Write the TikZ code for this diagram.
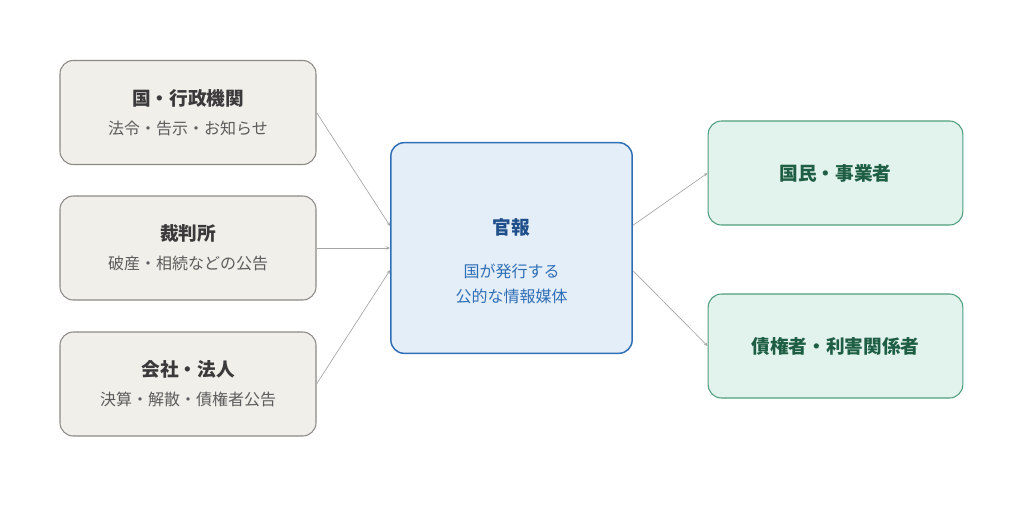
\documentclass[tikz,border=0pt]{standalone}
\usepackage{fontspec}
\setmainfont{Noto Sans CJK JP}
\usetikzlibrary{arrows.meta}
\definecolor{srcfill}{HTML}{F1EFEA}
\definecolor{srcline}{HTML}{8C8A84}
\definecolor{srctext}{HTML}{3A3A3A}
\definecolor{subtext}{HTML}{5C5C5C}
\definecolor{hubfill}{HTML}{E4EEF9}
\definecolor{hubline}{HTML}{2F6EB5}
\definecolor{hubtext}{HTML}{1F4F8A}
\definecolor{dstfill}{HTML}{E1F3EC}
\definecolor{dstline}{HTML}{4E9E7D}
\definecolor{dsttext}{HTML}{1E5E44}
\tikzset{
  box/.style={rounded corners=10pt, line width=0.8pt, minimum width=192pt, minimum height=78pt, align=center, inner sep=0pt},
  src/.style={box, fill=srcfill, draw=srcline},
  hub/.style={box, fill=hubfill, draw=hubline, line width=1.1pt, minimum width=181pt, minimum height=158pt},
  dst/.style={box, fill=dstfill, draw=dstline, minimum width=191pt},
  link/.style={draw=gray!70, line width=0.5pt, -{Stealth[length=3pt,width=2.5pt]}}
}
\newcommand\ttl{\fontsize{14pt}{17pt}\selectfont\bfseries}
\newcommand\sbt{\fontsize{12pt}{17pt}\selectfont\mdseries}
\begin{document}
\begin{tikzpicture}[x=0.75pt,y=-0.75pt]
    \useasboundingbox (0,0) rectangle (1024,512);

    \node[src] (gov) at (188,112.5) {\ttl\color{srctext}国・行政機関\\[10pt]\sbt\color{subtext}法令・告示・お知らせ};
    \node[src] (court) at (188,248) {\ttl\color{srctext}裁判所\\[10pt]\sbt\color{subtext}破産・相続などの公告};
    \node[src] (corp) at (188,384) {\ttl\color{srctext}会社・法人\\[10pt]\sbt\color{subtext}決算・解散・債権者公告};

    \node[hub] (kanpo) at (511.5,248) {\rule{0pt}{32pt}\ttl\color{hubtext}官報\\[20pt]\sbt\color{hubline}国が発行する\\[7pt]\sbt\color{hubline}公的な情報媒体};

    \node[dst] (public) at (835.5,173) {\ttl\color{dsttext}国民・事業者};
    \node[dst] (creditor) at (835.5,346) {\ttl\color{dsttext}債権者・利害関係者};

    % connectors
    \draw[link] (gov.east) -- ([yshift=16.5pt]kanpo.west);
    \draw[link] (court.east) -- (kanpo.west);
    \draw[link] (corp.east) -- ([yshift=-16.5pt]kanpo.west);
    \draw[link] ([yshift=17pt]kanpo.east) -- (public.west);
    \draw[link] ([yshift=-17pt]kanpo.east) -- (creditor.west);

\end{tikzpicture}
\end{document}
